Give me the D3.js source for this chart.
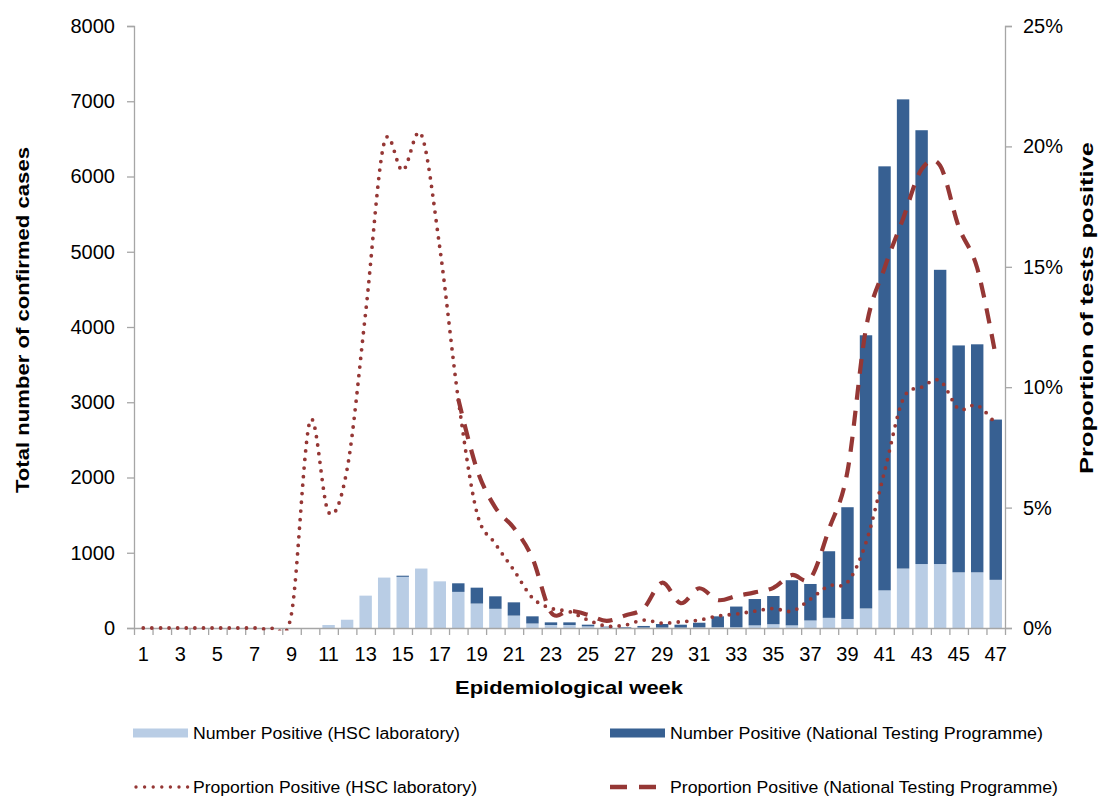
<!DOCTYPE html>
<html>
<head>
<meta charset="utf-8">
<script src="https://cdn.jsdelivr.net/npm/d3@7"></script>
<style>
  html, body { margin: 0; padding: 0; background: #fff; }
  svg { display: block; font-family: Arial, "Liberation Sans", sans-serif; }
</style>
</head>
<body>
<svg id="chart" width="1100" height="796"></svg>
<script>
// ---------- DATA ----------
const weeks = [1,2,3,4,5,6,7,8,9,10,11,12,13,14,15,16,17,18,19,20,21,22,23,24,25,26,27,28,29,30,31,32,33,34,35,36,37,38,39,40,41,42,43,44,45,46,47];

// Number positive (HSC laboratory)
const hscCount = [0,0,0,0,0,0,0,0,0,0,40,110,430,670,680,790,620,480,325,255,165,60,40,40,22,9,5,5,5,5,8,10,10,35,50,35,100,135,120,260,500,790,850,850,740,740,640];

// Number positive (National Testing Programme)
const ntpCount = [0,0,0,0,0,0,0,0,0,0,0,0,0,0,15,0,0,114,211,166,176,95,35,35,22,9,8,22,48,39,62,145,275,350,375,600,485,885,1485,3630,5635,6235,5765,3910,3015,3030,2130];

// Proportion positive (HSC laboratory), %
const hscProp = [0,0,0,0,0,0,0,0,0.6,8.6,4.8,6.6,13.1,20.15,19.0,20.5,15.8,9.5,4.8,3.5,2.4,1.25,0.82,0.68,0.33,0.08,0.12,0.33,0.2,0.26,0.33,0.5,0.58,0.7,0.81,0.7,1.2,1.75,1.9,3.55,6.5,9.5,10.0,10.27,9.1,9.25,8.47];

// Proportion positive (National Testing Programme), % (null = no data)
const ntpProp = [null,null,null,null,null,null,null,null,null,null,null,null,null,null,null,null,null,9.5,6.6,5.0,4.15,2.9,0.65,0.72,0.55,0.3,0.52,0.82,1.88,1.03,1.65,1.16,1.33,1.48,1.67,2.2,2.06,4.1,6.5,12.45,14.95,17.0,19.05,19.2,16.67,14.95,11.3];

const leftTicks = [0,1000,2000,3000,4000,5000,6000,7000,8000];
const rightTicks = [0,0.05,0.10,0.15,0.20,0.25];
const xLabelWeeks = [1,3,5,7,9,11,13,15,17,19,21,23,25,27,29,31,33,35,37,39,41,43,45,47];

const seriesNames = [
  "Number Positive (HSC laboratory)",
  "Number Positive (National Testing Programme)",
  "Proportion Positive (HSC laboratory)",
  "Proportion Positive (National Testing Programme)"
];

// ---------- STYLE ----------
const C_LIGHT = "#B9CDE5", C_DARK = "#376092", C_LINE = "#953735", C_AXIS = "#A6A6A6";
const L = 134, R = 1005, T = 26, B = 628;

const svg = d3.select("#chart");

svg.append("defs").append("clipPath").attr("id", "plotClip")
  .append("rect").attr("x", L).attr("y", T - 5).attr("width", R - L).attr("height", B - T + 7.5);

const x = d3.scaleBand().domain(weeks).range([L, R]).paddingInner(0.33).paddingOuter(0.165);
const xb = d3.scaleLinear().domain([0.5, 47.5]).range([L, R]);
const yL = d3.scaleLinear().domain([0, 8000]).range([B, T]);
const yR = d3.scaleLinear().domain([0, 0.25]).range([B, T]);

const rows = weeks.map((w, i) => ({ week: w, hsc: hscCount[i], ntp: ntpCount[i] }));
const stack = d3.stack().keys(["hsc", "ntp"])(rows);
const colors = { hsc: C_LIGHT, ntp: C_DARK };

// bars
svg.append("g").selectAll("g").data(stack).join("g")
  .attr("fill", d => colors[d.key])
  .selectAll("rect").data(d => d).join("rect")
  .attr("x", d => x(d.data.week))
  .attr("width", x.bandwidth())
  .attr("y", d => yL(d[1]))
  .attr("height", d => Math.max(0, yL(d[0]) - yL(d[1])));

// axes
function styleAxis(g) {
  g.select(".domain").attr("stroke", C_AXIS).attr("stroke-width", 1.3);
  g.selectAll(".tick line").attr("stroke", C_AXIS).attr("stroke-width", 1.3);
  g.selectAll("text").attr("fill", "#000");
}

const gl = svg.append("g").attr("transform", `translate(${L},0)`)
  .call(d3.axisLeft(yL).tickValues(leftTicks).tickSize(7).tickPadding(12).tickFormat(d3.format("d")).tickSizeOuter(7));
gl.selectAll("text").attr("font-size", 20);
styleAxis(gl);

const gr = svg.append("g").attr("transform", `translate(${R},0)`)
  .call(d3.axisRight(yR).tickValues(rightTicks).tickSize(7).tickPadding(11).tickFormat(d3.format(".0%")).tickSizeOuter(7));
gr.selectAll("text").attr("font-size", 20);
styleAxis(gr);

const gxTicks = svg.append("g").attr("transform", `translate(0,${B})`)
  .call(d3.axisBottom(xb).tickValues(d3.range(0.5, 48, 1)).tickSize(7).tickFormat("").tickSizeOuter(0));
styleAxis(gxTicks);

const gxLab = svg.append("g").attr("transform", `translate(0,${B})`)
  .call(d3.axisBottom(x).tickValues(xLabelWeeks).tickSize(0).tickPadding(19));
gxLab.select(".domain").remove();
gxLab.selectAll("text").attr("font-size", 20).attr("fill", "#000");

// lines
const cx = w => x(w) + x.bandwidth() / 2;
const lineGen = d3.line()
  .defined(d => d.v !== null)
  .x(d => cx(d.week))
  .y(d => yR(d.v / 100))
  .curve(d3.curveCatmullRom.alpha(0));

const lines = svg.append("g").attr("clip-path", "url(#plotClip)");

lines.append("path")
  .datum(weeks.map((w, i) => ({ week: w, v: hscProp[i] })))
  .attr("d", lineGen)
  .attr("fill", "none").attr("stroke", C_LINE).attr("stroke-width", 3.8)
  .attr("stroke-linecap", "round").attr("stroke-dasharray", "0 8.6");

lines.append("path")
  .datum(weeks.map((w, i) => ({ week: w, v: ntpProp[i] })))
  .attr("d", lineGen)
  .attr("fill", "none").attr("stroke", C_LINE).attr("stroke-width", 4.2)
  .attr("stroke-dasharray", "15 11");

// axis titles
svg.append("text")
  .attr("transform", "translate(29,320) rotate(-90)")
  .attr("text-anchor", "middle").attr("font-size", 19).attr("font-weight", "bold")
  .attr("textLength", 346).attr("lengthAdjust", "spacingAndGlyphs")
  .text("Total number of confirmed cases");

svg.append("text")
  .attr("transform", "translate(1093,308) rotate(-90)")
  .attr("text-anchor", "middle").attr("font-size", 19).attr("font-weight", "bold")
  .attr("textLength", 332).attr("lengthAdjust", "spacingAndGlyphs")
  .text("Proportion of tests positive");

svg.append("text")
  .attr("x", 569).attr("y", 694)
  .attr("text-anchor", "middle").attr("font-size", 19).attr("font-weight", "bold")
  .attr("textLength", 228).attr("lengthAdjust", "spacingAndGlyphs")
  .text("Epidemiological week");

// legend
const legend = [
  { name: seriesNames[0], type: "rect", color: C_LIGHT, x: 133, y: 733, tl: 267 },
  { name: seriesNames[1], type: "rect", color: C_DARK, x: 610, y: 733, tl: 373 },
  { name: seriesNames[2], type: "dot", color: C_LINE, x: 133, y: 787, tl: 284 },
  { name: seriesNames[3], type: "dash", color: C_LINE, x: 610, y: 787, tl: 388 }
];
const lg = svg.append("g").selectAll("g").data(legend).join("g")
  .attr("transform", d => `translate(${d.x},${d.y})`);
lg.filter(d => d.type === "rect").append("rect")
  .attr("x", 0).attr("y", -4.5).attr("width", 55).attr("height", 9).attr("fill", d => d.color);
lg.filter(d => d.type === "dot").append("line")
  .attr("x1", 3).attr("x2", 55).attr("y1", 0).attr("y2", 0)
  .attr("stroke", d => d.color).attr("stroke-width", 3.4)
  .attr("stroke-linecap", "round").attr("stroke-dasharray", "0 8.6");
lg.filter(d => d.type === "dash").append("line")
  .attr("x1", 0).attr("x2", 55).attr("y1", 0).attr("y2", 0)
  .attr("stroke", d => d.color).attr("stroke-width", 4.5)
  .attr("stroke-dasharray", "17 12");
lg.append("text")
  .attr("x", 60).attr("y", 6)
  .attr("font-size", 16).attr("fill", "#000")
  .attr("textLength", d => d.tl).attr("lengthAdjust", "spacingAndGlyphs")
  .text(d => d.name);
</script>
</body>
</html>
